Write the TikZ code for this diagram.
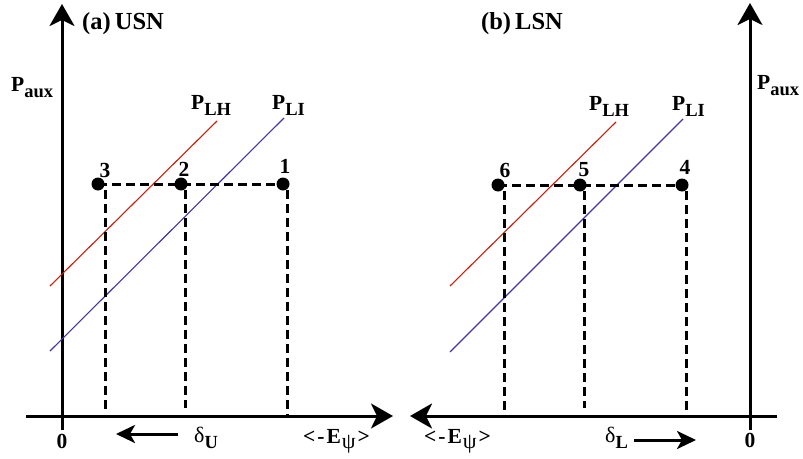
\documentclass[tikz,border=0pt]{standalone}
\usepackage{fontspec}
\setmainfont{Liberation Serif}
\usetikzlibrary{arrows.meta}
\definecolor{lhred}{RGB}{200,30,10}
\definecolor{liblue}{RGB}{70,50,170}
\newcommand\mysub[1]{\raisebox{-0.3em}{\fontsize{18.5}{18.5}\selectfont\bfseries #1}}
\newcommand\mygreek[1]{{\fontsize{22}{22}\selectfont\mdseries #1}}
\newcommand\eterm{<\kern2pt-\kern2pt E\kern1pt\raisebox{-0.25em}{\mygreek{ψ}}\kern2pt>}
\begin{document}
\begin{tikzpicture}[x=1pt,y=-1pt,
  axis/.style={line width=3pt,-{Stealth[length=22pt,width=25pt,inset=6pt]}},
  smallarrow/.style={line width=3pt,-{Stealth[length=19pt,width=18pt,inset=5pt]}},
  dashline/.style={line width=3pt,dash pattern=on 9pt off 5pt},
  dot/.style={circle,fill=black,inner sep=0pt,minimum size=13pt},
  lbl/.style={font=\fontsize{21.5}{21.5}\selectfont\bfseries,inner sep=0pt},
  ttl/.style={font=\fontsize{24.5}{24.5}\selectfont\bfseries,inner sep=0pt},
  redline/.style={lhred,line width=1.1pt},
  blueline/.style={liblue,line width=1.1pt}]
\useasboundingbox (0,0) rectangle (803,458);

% ---------- left panel (a) ----------
\coordinate (aybot) at (62,430);
\coordinate (aytop) at (62,4);
\coordinate (axl) at (26,416);
\coordinate (axr) at (393,416);
\draw[axis] (aybot) -- (aytop);
\draw[axis] (axl) -- (axr);

\coordinate (lh1) at (50,286);  \coordinate (lh2) at (217,121);
\coordinate (li1) at (50,351);  \coordinate (li2) at (284,118);
\draw[redline] (lh1) -- (lh2);
\draw[blueline] (li1) -- (li2);

\node[dot] (d3) at (98,184) {};
\node[dot] (d2) at (181,184) {};
\node[dot] (d1) at (283,184) {};
\draw[dashline] (d3.center) -- (d1.center);
\coordinate (v3t) at (105,190); \coordinate (v3b) at (105,410);
\coordinate (v2t) at (185,190); \coordinate (v2b) at (185,408);
\coordinate (v1t) at (287,190); \coordinate (v1b) at (287,416);
\draw[dashline] (v3t) -- (v3b);
\draw[dashline] (v2t) -- (v2b);
\draw[dashline] (v1t) -- (v1b);

\node[lbl,anchor=base] (n3) at (105,177) {3};
\node[lbl,anchor=base] (n2) at (184,176) {2};
\node[lbl,anchor=base] (n1) at (285,173) {1};

\node[ttl,anchor=base west] (ta) at (82,29) {(a)\,USN};
\node[lbl,anchor=base west] (pauxl) at (11,91) {P\mysub{aux}};
\node[lbl,anchor=base west] (plhl) at (191,109) {P\mysub{LH}};
\node[lbl,anchor=base west] (plil) at (272,109) {P\mysub{LI}};

\node[lbl,anchor=base] (zl) at (62,448) {0};
\coordinate (dua) at (178,434); \coordinate (dub) at (116,434);
\draw[smallarrow] (dua) -- (dub);
\node[lbl,anchor=base west] (du) at (194,442) {\mygreek{δ}\mysub{U}};
\node[lbl,anchor=base west] (el) at (303,443) {\eterm};

% ---------- right panel (b) ----------
\coordinate (bybot) at (750,430);
\coordinate (bytop) at (750,3);
\coordinate (bxr) at (777,416);
\coordinate (bxl) at (410,416);
\draw[axis] (bybot) -- (bytop);
\draw[axis] (bxr) -- (bxl);

\coordinate (rh1) at (450,286);  \coordinate (rh2) at (616,122);
\coordinate (ri1) at (450,352);  \coordinate (ri2) at (683,119);
\draw[redline] (rh1) -- (rh2);
\draw[blueline] (ri1) -- (ri2);

\node[dot] (d6) at (498,185) {};
\node[dot] (d5) at (580,185) {};
\node[dot] (d4) at (682,185) {};
\draw[dashline] (d6.center) -- (d4.center);
\coordinate (v6t) at (504,191); \coordinate (v6b) at (504,410);
\coordinate (v5t) at (584,191); \coordinate (v5b) at (584,408);
\coordinate (v4t) at (686,191); \coordinate (v4b) at (686,416);
\draw[dashline] (v6t) -- (v6b);
\draw[dashline] (v5t) -- (v5b);
\draw[dashline] (v4t) -- (v4b);

\node[lbl,anchor=base] (n6) at (505,177) {6};
\node[lbl,anchor=base] (n5) at (584,176) {5};
\node[lbl,anchor=base] (n4) at (685,174) {4};

\node[ttl,anchor=base west] (tb) at (481,29) {(b)\,LSN};
\node[lbl,anchor=base west] (pauxr) at (757,89) {P\mysub{aux}};
\node[lbl,anchor=base west] (plhr) at (589,110) {P\mysub{LH}};
\node[lbl,anchor=base west] (plir) at (672,110) {P\mysub{LI}};

\node[lbl,anchor=base] (zr) at (750,447) {0};
\coordinate (dla) at (634,440); \coordinate (dlb) at (696,440);
\draw[smallarrow] (dla) -- (dlb);
\node[lbl,anchor=base west] (dl) at (605,442) {\mygreek{δ}\mysub{L}};
\node[lbl,anchor=base west] (er) at (424,443) {\eterm};
\end{tikzpicture}
\end{document}
